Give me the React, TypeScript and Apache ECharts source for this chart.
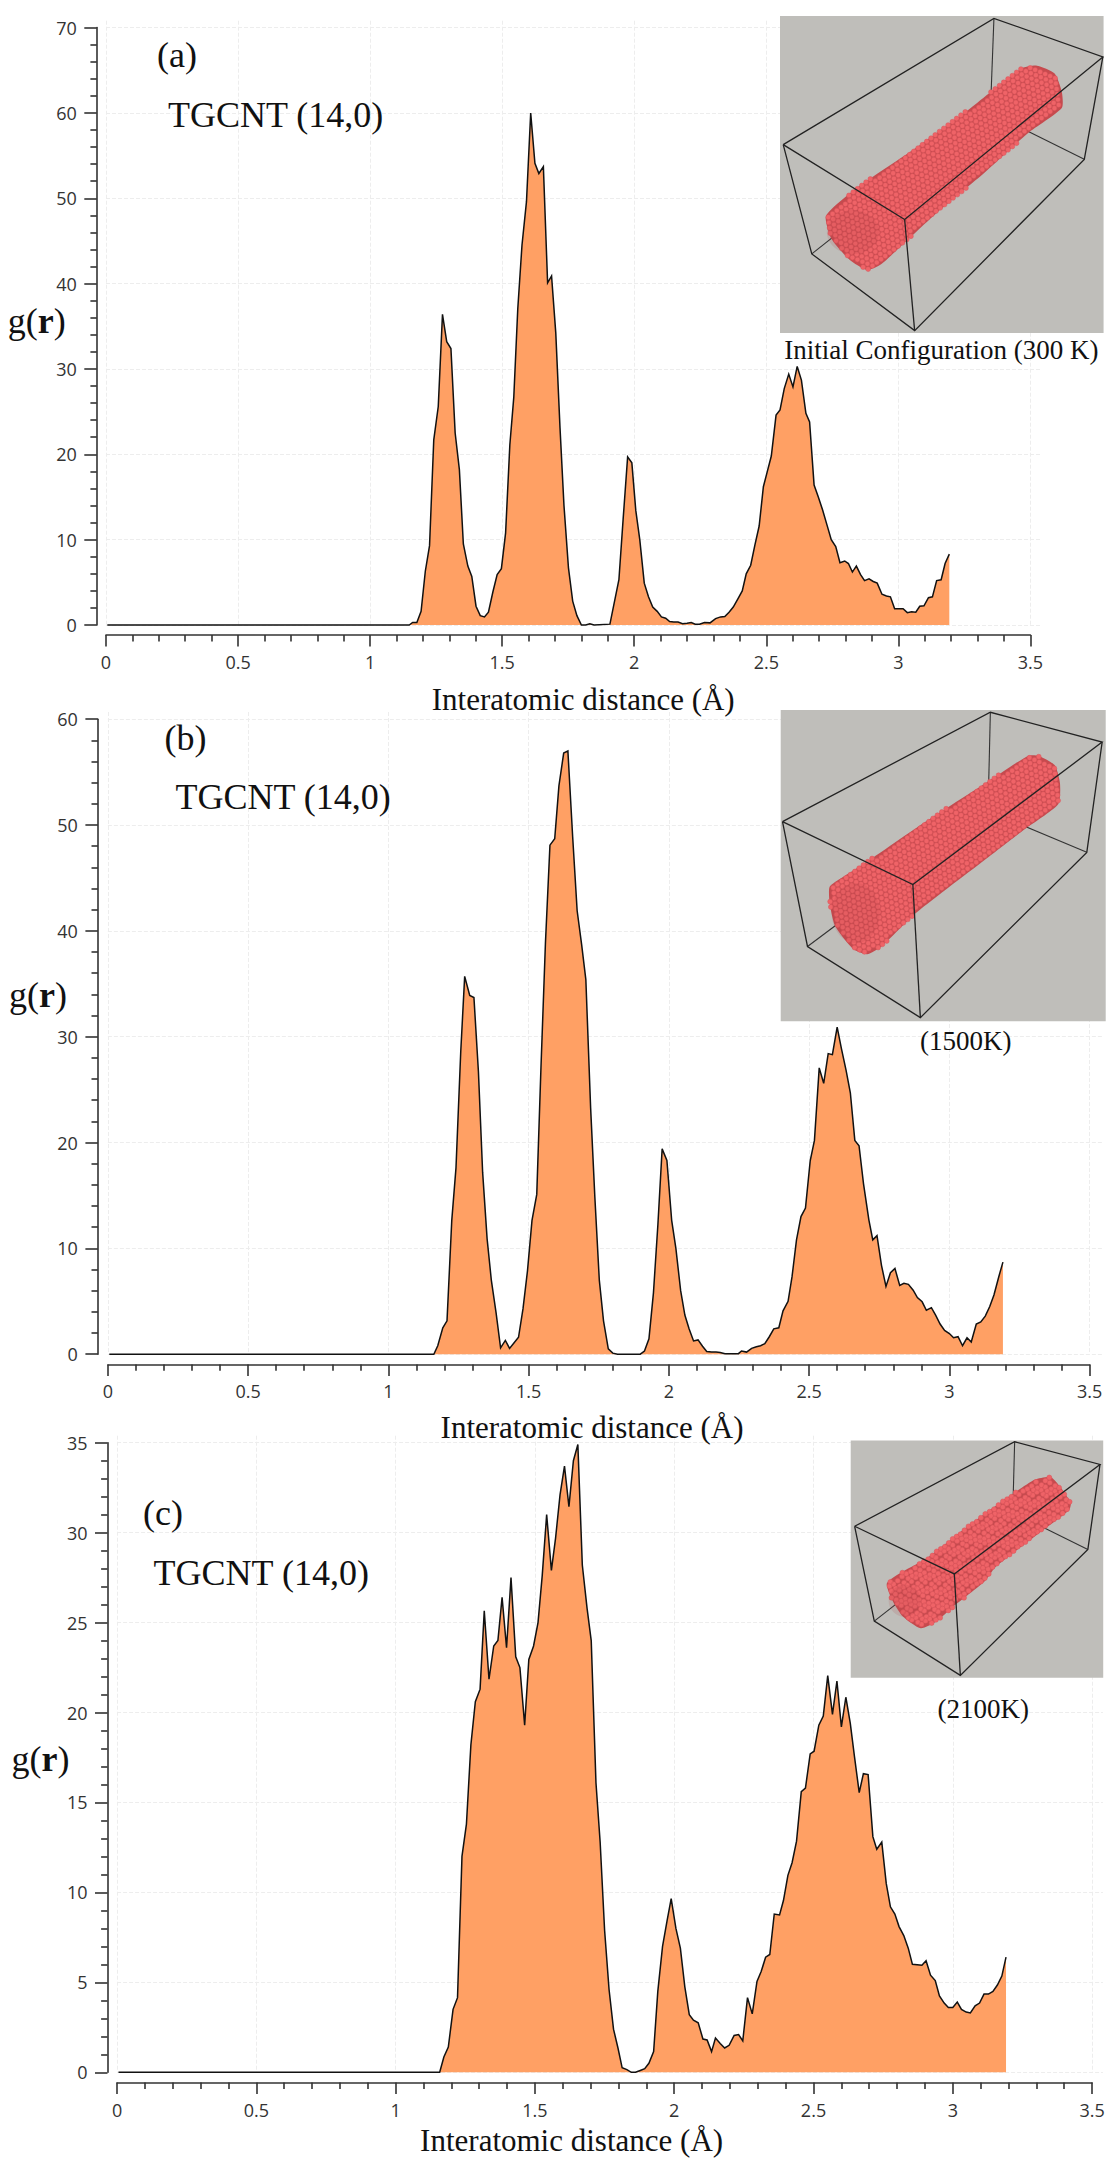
import React, { useEffect, useRef } from "react";
import * as echarts from "echarts";

// ---- chart data: interatomic distance (Å) and g(r) ----
const distanceA = [0.005,1.117,1.148,1.161,1.177,1.193,1.209,1.225,1.241,1.258,1.274,1.29,1.306,1.322,1.338,1.353,1.37,1.385,1.401,1.417,1.433,1.448,1.465,1.481,1.497,1.513,1.529,1.544,1.559,1.575,1.592,1.608,1.624,1.639,1.656,1.672,1.687,1.703,1.719,1.734,1.751,1.767,1.783,1.8,1.816,1.832,1.848,1.908,1.942,1.958,1.975,1.991,2.006,2.021,2.038,2.054,2.07,2.087,2.103,2.119,2.134,2.15,2.166,2.183,2.2,2.216,2.231,2.247,2.266,2.287,2.308,2.327,2.343,2.359,2.375,2.393,2.409,2.424,2.441,2.457,2.473,2.489,2.504,2.519,2.537,2.552,2.568,2.585,2.601,2.617,2.633,2.65,2.664,2.681,2.697,2.713,2.73,2.746,2.763,2.779,2.797,2.811,2.826,2.841,2.857,2.872,2.889,2.905,2.92,2.938,2.955,2.97,2.986,3.003,3.018,3.034,3.05,3.066,3.081,3.097,3.114,3.129,3.145,3.162,3.177,3.193];
const gofrA = [0,0,0,0.3,0.3,1.6,6.3,9.3,21.7,25.6,36.4,33.2,32.4,22.5,18.2,9.5,6.9,5.7,2.2,1.1,0.95,1.5,3.9,5.9,6.6,10.8,21.1,26.7,37,44.5,49.6,60,54.1,52.9,53.7,40.1,40.9,34.2,23.1,14,6.7,2.8,1.1,0,0,0.15,0,0.1,5.3,12.4,19.7,19,13.4,10,4.9,3.3,2.1,1.6,0.95,0.8,0.4,0.35,0.35,0.15,0.2,0.3,0.1,0.1,0.3,0.25,0.75,0.95,1,1.5,2.1,3.1,4,6,7,9.4,11.6,16.2,18,19.8,24.6,25.2,27.7,29.4,27.9,30.3,28.7,24.8,23.8,16.4,15,13.5,11.7,10,9.2,7.3,7.5,7.2,6.2,6.9,5.9,5.2,5.4,5.1,4.9,3.6,3.4,3.3,1.9,1.9,1.9,1.45,1.55,1.5,2.2,2.25,3.2,3.3,5.2,5.3,7.2,8.3];

const distanceB = [0.005,1.162,1.176,1.194,1.209,1.226,1.241,1.258,1.272,1.29,1.305,1.321,1.336,1.352,1.367,1.384,1.4,1.417,1.432,1.449,1.464,1.48,1.496,1.512,1.529,1.544,1.56,1.576,1.593,1.608,1.625,1.64,1.657,1.673,1.689,1.704,1.721,1.736,1.752,1.767,1.784,1.8,1.817,1.898,1.913,1.929,1.945,1.961,1.976,1.993,2.01,2.025,2.042,2.057,2.072,2.088,2.104,2.12,2.135,2.152,2.168,2.183,2.2,2.248,2.259,2.277,2.295,2.312,2.327,2.342,2.358,2.374,2.392,2.407,2.425,2.439,2.455,2.471,2.487,2.504,2.519,2.536,2.552,2.568,2.583,2.6,2.615,2.632,2.647,2.663,2.678,2.694,2.713,2.727,2.742,2.758,2.774,2.79,2.806,2.823,2.838,2.854,2.871,2.886,2.903,2.918,2.936,2.951,2.967,2.983,3,3.015,3.031,3.047,3.063,3.078,3.096,3.112,3.128,3.144,3.159,3.176,3.191];
const gofrB = [0,0,0.8,2.5,3.15,12.65,17.6,28.6,35.7,33.9,33.7,26.7,17.2,10.9,7,3.9,0.6,1.3,0.55,1.1,1.6,4.3,7.9,12.65,15.1,27.1,38.9,48.1,48.7,53.7,56.8,57,48.9,41.9,38.7,35.4,23.3,14.9,7,3.15,0.5,0.1,0,0,0.3,1.45,5.8,12.3,19.4,18.3,12.65,10,6,3.7,2.4,1.25,1.35,0.75,0.25,0.2,0.2,0.15,0.05,0.05,0.3,0.2,0.55,0.7,0.8,1,1.65,2.4,2.5,4.1,5,7.3,10.8,13,13.8,18.3,20.2,27.05,25.6,28.4,28.3,30.9,28.9,26.8,24.7,20.2,19.7,16.1,12.7,10.8,11.2,8.4,6.4,7.7,8.1,6.5,6.7,6.6,6.05,5.35,4.95,4.15,4.4,3.7,2.85,2.25,1.95,1.55,1.65,0.8,1.55,1.15,2.85,3.05,3.6,4.5,5.6,7.3,8.7];

const distanceC = [0.005,1.158,1.173,1.189,1.206,1.222,1.238,1.254,1.27,1.286,1.303,1.318,1.335,1.352,1.367,1.382,1.398,1.414,1.431,1.446,1.463,1.478,1.495,1.511,1.526,1.542,1.559,1.574,1.59,1.606,1.622,1.638,1.654,1.67,1.687,1.702,1.719,1.734,1.75,1.766,1.782,1.798,1.813,1.83,1.846,1.861,1.878,1.894,1.909,1.926,1.941,1.958,1.974,1.989,2.006,2.022,2.038,2.054,2.069,2.086,2.103,2.118,2.134,2.148,2.165,2.181,2.197,2.215,2.231,2.246,2.263,2.28,2.297,2.312,2.328,2.343,2.359,2.378,2.392,2.408,2.423,2.439,2.456,2.471,2.488,2.502,2.519,2.535,2.551,2.568,2.584,2.6,2.616,2.632,2.647,2.664,2.679,2.696,2.713,2.727,2.745,2.761,2.776,2.792,2.807,2.824,2.84,2.855,2.889,2.904,2.92,2.937,2.952,2.969,2.984,3,3.016,3.031,3.048,3.063,3.08,3.096,3.112,3.128,3.144,3.16,3.176,3.191];
const gofrC = [0,0,0.85,1.4,3.5,4.15,12,13.8,18.2,20.6,21.3,25.65,21.85,23.7,24,26.4,23.6,27.5,23.1,22.5,19.3,22.95,23.7,25,27.6,31,27.9,29.7,32.1,33.7,31.45,34,34.9,28.2,25.8,24,16.1,12.8,7.9,4.6,2.4,1.35,0.25,0.15,0,0,0.1,0.2,0.5,1.15,4.5,7,8.4,9.65,8,6.9,4.75,3.2,2.9,2.75,1.85,1.8,1.15,1.9,1.6,1.35,1.5,2.05,2.1,1.75,4.15,3.25,5.05,5.6,6.4,6.55,8.8,8.75,9.55,10.95,11.65,12.85,15.6,15.8,17.7,17.85,19.3,19.8,22.05,19.9,21.75,19.2,20.85,19.4,17.55,15.55,16.6,16.55,13.1,12.4,12.8,10.5,9.2,8.8,8.1,7.6,6.9,6,5.95,6.2,5.4,5.1,4.25,3.85,3.6,3.6,3.9,3.5,3.35,3.3,3.7,3.85,4.35,4.35,4.5,4.85,5.35,6.4];

const xTitle = "Interatomic distance (Å)";
const yTitle = "{n|g(}{b|r}{n|)}";
const sampleName = "TGCNT (14,0)";
const panelTags = ["(a)", "(b)", "(c)"];
const captions = ["Initial Configuration (300 K)", "(1500K)", "(2100K)"];

const SERIF = '"Liberation Serif", serif';
const SANS = '"Open Sans", sans-serif';
const AXIS = "#333";

type Pt = number[];

const panels = [
  { x: distanceA, y: gofrA, left: 106, right: 1030.4, top: 27.6, bottom: 625, bgRight: 1041, bgTop: 20.7, yMax: 70, yStep: 10,
    axisGapY: 9.2, axisGapX: 10, xNameGap: 64, xNameShift: 15, yNameGap: 31, yNameShift: 5 },
  { x: distanceB, y: gofrB, left: 107.9, right: 1089.6, top: 719.2, bottom: 1354.2, bgRight: 1102, bgTop: 712, yMax: 60, yStep: 10,
    axisGapY: 10, axisGapX: 10.2, xNameGap: 63, xNameShift: -6.7, yNameGap: 31, yNameShift: 42 },
  { x: distanceC, y: gofrC, left: 117.1, right: 1092.1, top: 1442.7, bottom: 2072.3, bgRight: 1102.9, bgTop: 1435.7, yMax: 35, yStep: 5,
    axisGapY: 9.6, axisGapX: 10.3, xNameGap: 57.5, xNameShift: -33, yNameGap: 38, yNameShift: -1 },
];

// ---- insets: a drawn stand-in for the nanotube renders, in page pixels ----
const mapA = (p: Pt) => [560 + p[0] / 2.8, p[1] * 720 / 1568];
const mapB = (p: Pt) => [560 + p[0] / 2.8, 710 + p[1] * 720 / 1568];
const mapC = (p: Pt) => [560 + p[0] / 2.8, 1430 + p[1] * 740 / 1568];

const insets = [
  { map: mapA, rect: [616, 35, 1522, 725], tag: "A",
    back: [[[1215, 40], [1205, 245]], [[1205, 245], [1468, 347]], [[705, 553], [1205, 245]]],
    front: [[[625, 315], [1215, 40], [1520, 124], [965, 478], [625, 315]], [[625, 315], [705, 553], [993, 720], [1468, 347], [1520, 124]], [[965, 478], [993, 720]]],
    tube: [[745, 470], [830, 410], [1000, 320], [1150, 235], [1290, 150], [1335, 143], [1385, 160], [1405, 200], [1405, 235], [1310, 290], [1190, 375], [1060, 460], [970, 525], [900, 575], [860, 588], [810, 565], [760, 520]],
    axis: [[835, 500], [1345, 195]], end: [820, 505, 26, 22], spacing: 5.4, r: 2.45, jitter: 0 },
  { map: mapB, rect: [618, 0, 1528, 678], tag: "B",
    back: [[[1205, 5], [1200, 170]], [[1200, 220], [1475, 310]], [[693, 515], [1200, 220]]],
    front: [[[623, 243], [1205, 5], [1518, 70], [988, 380], [623, 243]], [[623, 243], [693, 515], [1009, 670], [1475, 310], [1518, 70]], [[988, 380], [1009, 670]]],
    tube: [[755, 385], [790, 365], [870, 325], [1020, 245], [1200, 155], [1310, 100], [1340, 100], [1385, 120], [1400, 160], [1395, 205], [1300, 260], [1200, 320], [1000, 440], [900, 515], [860, 532], [820, 520], [770, 470], [755, 420]],
    axis: [[840, 445], [1345, 150]], end: [828, 442, 24, 30], spacing: 5.4, r: 2.45, jitter: 0 },
  { map: mapC, rect: [814, 22, 1521, 525], tag: "C",
    back: [[[1273, 25], [1269, 140]], [[1269, 175], [1478, 253]], [[880, 405], [1269, 175]]],
    front: [[[825, 204], [1273, 25], [1512, 73], [1104, 305], [825, 204]], [[825, 204], [880, 405], [1121, 520], [1478, 253], [1512, 73]], [[1104, 305], [1121, 520]]],
    tube: [[915, 325], [960, 300], [1030, 270], [1140, 205], [1240, 150], [1330, 105], [1375, 100], [1405, 125], [1430, 155], [1425, 170], [1330, 225], [1220, 290], [1190, 320], [1100, 375], [1055, 405], [1010, 420], [960, 395], [930, 360]],
    axis: [[980, 360], [1375, 135]], end: [965, 362, 16, 16], spacing: 5.2, r: 2.5, jitter: 0.8 },
];

const labels = [
  { text: panelTags[0], x: 157, y: 55 }, { text: sampleName, x: 168, y: 115 },
  { text: panelTags[1], x: 164.6, y: 737.5 }, { text: sampleName, x: 175.4, y: 797 },
  { text: panelTags[2], x: 143, y: 1512.6 }, { text: sampleName, x: 153.6, y: 1573 },
];
const captionLabels = [
  { text: captions[0], x: 784.3, y: 350 },
  { text: captions[1], x: 920, y: 1040.6 },
  { text: captions[2], x: 937.5, y: 1709.4 },
];

function inside(p: Pt, poly: Pt[]) {
  let hit = false;
  for (let i = 0, j = poly.length - 1; i < poly.length; j = i++) {
    const a = poly[i], b = poly[j];
    if (a[1] > p[1] !== b[1] > p[1] && p[0] < ((b[0] - a[0]) * (p[1] - a[1])) / (b[1] - a[1]) + a[0]) hit = !hit;
  }
  return hit;
}

function beads(poly: Pt[], from: Pt, to: Pt, spacing: number, r: number, jitter: number) {
  const len = Math.hypot(to[0] - from[0], to[1] - from[1]);
  const u = [(to[0] - from[0]) / len, (to[1] - from[1]) / len];
  const v = [-u[1], u[0]];
  let d = "";
  for (let i = -20; i < len / spacing + 20; i++) {
    for (let j = -22; j <= 22; j++) {
      const a = (i + (j % 2 ? 0.5 : 0)) * spacing;
      const b = j * spacing * 0.866;
      const wobble = jitter * Math.sin(i * 12.9 + j * 78.2);
      const wobble2 = jitter * Math.cos(i * 39.3 + j * 11.1);
      const p = [from[0] + u[0] * a + v[0] * b + wobble, from[1] + u[1] * a + v[1] * b + wobble2];
      if (inside(p, poly)) {
        d += `M${(p[0] - r).toFixed(1)} ${p[1].toFixed(1)}a${r} ${r} 0 1 0 ${2 * r} 0a${r} ${r} 0 1 0 ${-2 * r} 0Z`;
      }
    }
  }
  return d;
}

function insetElements() {
  const out: any[] = [];
  insets.forEach((ins) => {
    const m = ins.map;
    const [x1, y1] = m([ins.rect[0], ins.rect[1]]);
    const [x2, y2] = m([ins.rect[2], ins.rect[3]]);
    out.push({ type: "rect", z: 20, silent: true, shape: { x: x1, y: y1, width: x2 - x1, height: y2 - y1 }, style: { fill: "#BFBEBA" } });
    ins.back.forEach((pts) => out.push({ type: "polyline", z: 21, silent: true, shape: { points: pts.map(m) }, style: { stroke: "#333", lineWidth: 1.1, fill: "none" } }));
    const poly = ins.tube.map(m);
    const name = "beads" + ins.tag;
    const d = beads(poly, m(ins.axis[0]), m(ins.axis[1]), ins.spacing, ins.r, ins.jitter);
    echarts.graphic.registerShape(name, echarts.graphic.extendPath(d, {}));
    out.push({ type: "polygon", z: 22, silent: true, shape: { points: poly, smooth: 0.2 }, style: { fill: "#C64A4E" } });
    out.push({ type: name, z: 23, silent: true, x: 0, y: 0, style: { fill: "#EF6367", stroke: "#D9545A", lineWidth: 0.5 } });
    const c = m([ins.end[0], ins.end[1]]);
    out.push({ type: "ellipse", z: 24, silent: true, shape: { cx: c[0], cy: c[1], rx: ins.end[2], ry: ins.end[3] }, style: { fill: "#A8383D", opacity: 0.14 } });
    ins.front.forEach((pts) => out.push({ type: "polyline", z: 25, silent: true, shape: { points: pts.map(m) }, style: { stroke: "#222", lineWidth: 1.3, fill: "none" } }));
  });
  return out;
}

function textElements() {
  const tag = labels.map((l) => ({
    type: "text", z: 30, x: l.x, y: l.y, silent: true,
    style: { text: l.text, fontFamily: SERIF, fontSize: 36, fill: "#111", align: "left", verticalAlign: "middle" },
  }));
  const cap = captionLabels.map((l) => ({
    type: "text", z: 30, x: l.x, y: l.y, silent: true,
    style: { text: l.text, fontFamily: SERIF, fontSize: 27, fill: "#111", align: "left", verticalAlign: "middle" },
  }));
  return [...tag, ...cap];
}

function buildOption() {
  const grid: any[] = [], xAxis: any[] = [], yAxis: any[] = [], series: any[] = [];
  const gridLine = { show: true, showMaxLine: false, lineStyle: { color: "#EDEDED", width: 1, type: "dashed" } };
  panels.forEach((p, i) => {
    const W = 1120, H = 2170;
    // background lattice: runs a little past the axes, as in the picture
    grid.push({ left: p.left, width: p.bgRight - p.left, top: p.bgTop, height: p.bottom - p.bgTop, containLabel: false, outerBoundsMode: "none" });
    xAxis.push({ type: "value", gridIndex: 2 * i, min: 0, max: (3.5 * (p.bgRight - p.left)) / (p.right - p.left), interval: 0.5,
      axisLine: { show: false }, axisTick: { show: false }, axisLabel: { show: false }, splitLine: gridLine });
    yAxis.push({ type: "value", gridIndex: 2 * i, min: 0, max: (p.yMax * (p.bottom - p.bgTop)) / (p.bottom - p.top), interval: p.yStep,
      axisLine: { show: false }, axisTick: { show: false }, axisLabel: { show: false }, splitLine: gridLine });

    grid.push({ left: p.left, right: W - p.right, top: p.top, bottom: H - p.bottom, containLabel: false, outerBoundsMode: "none" });
    const lineStyle = { color: AXIS, width: 1.6 };
    xAxis.push({
      type: "value", gridIndex: 2 * i + 1, position: "bottom", offset: p.axisGapX, min: 0, max: 3.5, interval: 0.5,
      name: xTitle, nameLocation: "middle", nameGap: p.xNameGap, nameMoveOverlap: false,
      nameTextStyle: { fontFamily: SERIF, fontSize: 31, color: "#111", verticalAlign: "middle",
        padding: p.xNameShift > 0 ? [0, 0, 0, 2 * p.xNameShift] : [0, -2 * p.xNameShift, 0, 0] },
      axisLine: { show: true, onZero: false, lineStyle },
      axisTick: { show: true, length: 11.5, lineStyle },
      minorTick: { show: true, splitNumber: 5, length: 6.4, lineStyle },
      splitLine: { show: false }, minorSplitLine: { show: false },
      axisLabel: { fontFamily: SANS, fontSize: 18, color: AXIS, margin: 18, hideOverlap: false },
    });
    yAxis.push({
      type: "value", gridIndex: 2 * i + 1, position: "left", offset: p.axisGapY, min: 0, max: p.yMax, interval: p.yStep,
      name: yTitle, nameLocation: "middle", nameRotate: 0, nameGap: p.yNameGap, nameMoveOverlap: false,
      nameTextStyle: {
        fontFamily: SERIF, fontSize: 36, color: "#111",
        padding: p.yNameShift > 0 ? [0, 0, 2 * p.yNameShift, 0] : [-2 * p.yNameShift, 0, 0, 0],
        rich: {
          n: { fontFamily: SERIF, fontSize: 36, color: "#111" },
          b: { fontFamily: SERIF, fontSize: 36, fontWeight: "bold", color: "#111" },
        },
      },
      axisLine: { show: true, onZero: false, lineStyle },
      axisTick: { show: true, length: 12.5, lineStyle },
      minorTick: { show: true, splitNumber: 5, length: 6.4, lineStyle },
      splitLine: { show: false }, minorSplitLine: { show: false },
      axisLabel: { fontFamily: SANS, fontSize: 18, color: AXIS, margin: 20 },
    });
    series.push({
      type: "line", xAxisIndex: 2 * i + 1, yAxisIndex: 2 * i + 1, showSymbol: false, symbol: "none", clip: false,
      data: p.x.map((r, k) => [r, p.y[k]]),
      lineStyle: { color: "#111", width: 1.5, join: "miter" },
      areaStyle: { color: "#FFA064", opacity: 1 },
      z: 5,
    });
  });
  return {
    animation: false,
    backgroundColor: "#fff",
    grid, xAxis, yAxis, series,
    graphic: { elements: [...insetElements(), ...textElements()] },
  };
}

export default function App() {
  const ref = useRef<HTMLDivElement>(null);
  useEffect(() => {
    if (!ref.current) return;
    const chart = echarts.init(ref.current, undefined, { renderer: "svg" });
    chart.setOption(buildOption() as any);
    return () => chart.dispose();
  }, []);
  return <div ref={ref} style={{ position: "absolute", left: 0, top: 0, width: 1120, height: 2170 }} />;
}
